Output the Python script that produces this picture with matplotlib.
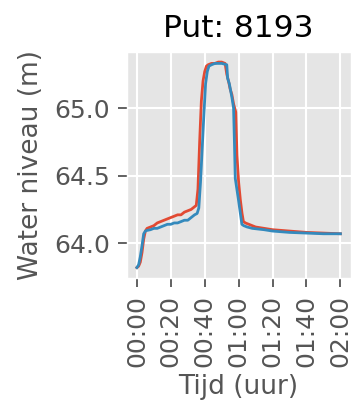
import matplotlib
matplotlib.use('Agg')
import matplotlib.pyplot as plt
import matplotlib.dates as mdates
import pandas as pd

# minutes since start and water level (m)
red_minutes = [0, 1, 2, 3, 4, 5, 6, 8, 10, 12, 14, 16, 18, 20, 22, 24, 26, 28, 30, 32, 34, 35,
               36, 37, 38, 39, 40, 41, 42, 44, 46, 48, 50, 52, 53, 54, 55, 56, 57, 58.3, 59,
               60, 61, 62, 62.8, 64, 66, 70, 75, 80, 90, 100, 110, 120]
red_level = [63.82, 63.83, 63.86, 63.93, 64.03, 64.09, 64.11, 64.12, 64.13, 64.15, 64.16, 64.17,
             64.18, 64.19, 64.20, 64.21, 64.21, 64.23, 64.24, 64.25, 64.27, 64.28,
             64.40, 64.75, 65.05, 65.20, 65.27, 65.31, 65.32, 65.33, 65.33, 65.34, 65.34, 65.33,
             65.25, 65.20, 65.14, 65.10, 65.03, 64.97, 64.65,
             64.45, 64.32, 64.22, 64.16, 64.15, 64.14, 64.12, 64.11, 64.10, 64.09, 64.08, 64.075, 64.07]

blue_minutes = [0, 1, 2, 3, 4, 5, 6, 8, 10, 12, 14, 16, 18, 20, 22, 24, 26, 28, 30, 32, 34, 35.5,
                36.5, 37.5, 38.5, 39.5, 40.5, 41.5, 42.5, 44, 46, 50, 53, 53.5, 54.5, 56, 57,
                57.5, 58, 59.9, 61.9, 63, 65, 68, 75, 80, 90, 100, 110, 120]
blue_level = [63.82, 63.84, 63.90, 63.98, 64.07, 64.09, 64.095, 64.10, 64.11, 64.11, 64.12, 64.13,
              64.14, 64.14, 64.15, 64.15, 64.16, 64.17, 64.17, 64.19, 64.21, 64.22,
              64.26, 64.45, 64.70, 64.95, 65.18, 65.27, 65.31, 65.32, 65.33, 65.33, 65.32, 65.22,
              65.18, 65.08, 65.00, 64.75, 64.48, 64.32, 64.14, 64.13, 64.12, 64.11, 64.10,
              64.09, 64.08, 64.075, 64.07, 64.07]

start = pd.Timestamp('2020-01-01 00:00')
red_time = start + pd.to_timedelta(red_minutes, unit='m')
blue_time = start + pd.to_timedelta(blue_minutes, unit='m')

plt.style.use('ggplot')

fig, ax = plt.subplots(figsize=(3.52, 4.11), dpi=100)
ax.plot(red_time, red_level, color='#E24A33', linewidth=2)
ax.plot(blue_time, blue_level, color='#348ABD', linewidth=2)

ax.xaxis.set_major_locator(mdates.MinuteLocator(byminute=[0, 20, 40]))
ax.xaxis.set_major_formatter(mdates.DateFormatter('%H:%M'))
plt.xticks(rotation=90)

ax.grid(True, color='white', linewidth=1.5)
ax.tick_params(axis='both', labelsize=18, colors='#555555', length=6.3, width=1.3, pad=6)
ax.set_title('Put: 8193', fontsize=22.5, color='black', pad=11)
ax.set_xlabel('Tijd (uur)', fontsize=19, color='#555555', labelpad=5)
ax.set_ylabel('Water niveau (m)', fontsize=19, color='#555555', labelpad=7)

plt.subplots_adjust(left=0.36, right=0.996, top=0.874, bottom=0.324)
plt.savefig('out.png', dpi=100)
plt.close()
